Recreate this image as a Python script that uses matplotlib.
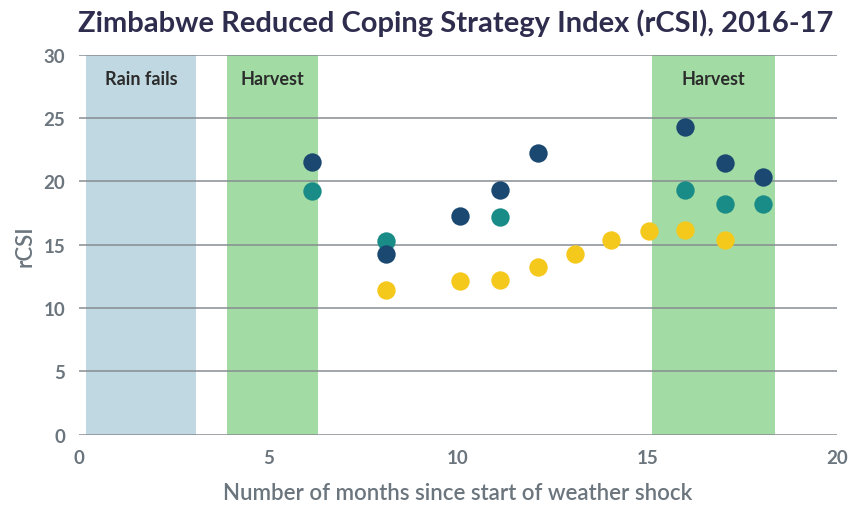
import matplotlib
matplotlib.use("Agg")
import matplotlib.pyplot as plt

plt.rcParams["font.family"] = ["Lato", "DejaVu Sans"]

# months since start of weather shock
navy_x = [6.15, 8.1, 10.05, 11.1, 12.1, 16.0, 17.05, 18.05]
navy_y = [21.5, 14.25, 17.25, 19.3, 22.25, 24.3, 21.45, 20.35]
teal_x = [6.15, 8.1, 11.1, 16.0, 17.05, 18.05]
teal_y = [19.25, 15.3, 17.15, 19.3, 18.25, 18.25]
yellow_x = [8.1, 10.05, 11.1, 12.1, 13.1, 14.05, 15.05, 16.0, 17.05]
yellow_y = [11.4, 12.15, 12.2, 13.25, 14.3, 15.35, 16.1, 16.15, 15.35]

spans = [(0.18, 3.1, "#c0d8e2", "Rain fails"),
         (3.9, 6.3, "#a2dba3", "Harvest"),
         (15.12, 18.36, "#a2dba3", "Harvest")]

xticks = [0, 5, 10, 15, 20]
yticks = [0, 5, 10, 15, 20, 25, 30]

fig = plt.figure(figsize=(8.51, 5.10), dpi=100)
ax = fig.add_axes([0.0928, 0.1457, 0.8907, 0.7451])

for x0, x1, col, lbl in spans:
    ax.axvspan(x0, x1, color=col, lw=0, zorder=0)
    ax.text((x0 + x1) / 2, 28.1, lbl, ha="center", va="center",
            fontsize=13, fontweight="bold", color="#2b2b2b", zorder=3)

for v in yticks:
    ax.axhline(v, color="#878c91", lw=1.1, zorder=1)

ms = 175
ax.scatter(yellow_x, yellow_y, s=ms, color="#f5c81c", lw=0, zorder=4)
ax.scatter(teal_x, teal_y, s=ms, color="#1a8c87", lw=0, zorder=5)
ax.scatter(navy_x, navy_y, s=ms, color="#1b4870", lw=0, zorder=6)

ax.set_xlim(0, 20)
ax.set_ylim(0, 30)
ax.set_xticks(xticks)
ax.set_yticks(yticks)
ax.tick_params(length=0, labelsize=13.5, labelcolor="#6b757d", pad=10)
for t in ax.get_xticklabels() + ax.get_yticklabels():
    t.set_fontweight("bold")
for s in ax.spines.values():
    s.set_visible(False)

ax.set_xlabel("Number of months since start of weather shock", fontsize=16,
              fontweight="semibold", color="#6b757d", labelpad=12)
ax.set_ylabel("rCSI", fontsize=16, fontweight="semibold", color="#6b757d", labelpad=6)
fig.text(0.535, 0.955, "Zimbabwe Reduced Coping Strategy Index (rCSI), 2016-17",
         ha="center", va="center", fontsize=21, fontweight="bold", color="#2f2d4e")

fig.savefig("out.png", dpi=100)
